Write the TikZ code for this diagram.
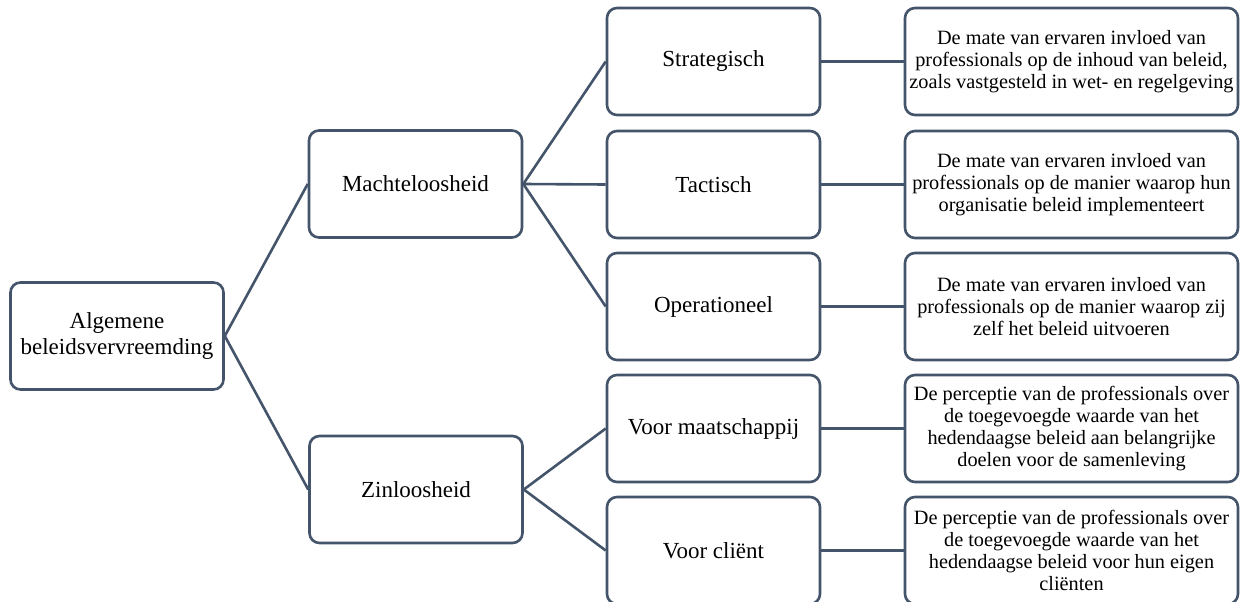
\documentclass[tikz,border=0pt]{standalone}
\usepackage{fontspec}
\setmainfont{Liberation Serif}
\definecolor{boxline}{RGB}{68,84,106}
\tikzset{
  box/.style={draw=boxline, line width=2.6pt, rounded corners=10pt, fill=white,
    align=center, inner sep=0pt, minimum width=213pt, minimum height=107pt,
    font=\fontsize{23}{25}\selectfont},
  desc/.style={box, minimum width=333pt,
    font=\fontsize{20.3}{22}\selectfont},
  link/.style={draw=boxline, line width=2.6pt}
}
\begin{document}
\begin{tikzpicture}[x=1pt,y=-1pt]
\useasboundingbox (0,0) rectangle (1245,602);
\node[box] (root) at (117,336) {Algemene\\beleidsvervreemding};
\node[box] (mach) at (415.5,184) {Machteloosheid};
\node[box] (zin) at (416,489.5) {Zinloosheid};
\node[box] (str) at (713.5,61.5) {Strategisch};
\node[box] (tac) at (713.5,184.5) {Tactisch};
\node[box] (ope) at (713.5,306.5) {Operationeel};
\node[box] (maa) at (713.5,428.5) {Voor maatschappij};
\node[box] (cli) at (713.5,550.5) {Voor cliënt};
\node[desc] (dstr) at (1071.5,61.5) {De mate van ervaren invloed van\\professionals op de inhoud van beleid,\\zoals vastgesteld in wet- en regelgeving};
\node[desc] (dtac) at (1071.5,184.5) {De mate van ervaren invloed van\\professionals op de manier waarop hun\\organisatie beleid implementeert};
\node[desc] (dope) at (1071.5,306.5) {De mate van ervaren invloed van\\professionals op de manier waarop zij\\zelf het beleid uitvoeren};
\node[desc] (dmaa) at (1071.5,428.5) {De perceptie van de professionals over\\de toegevoegde waarde van het\\hedendaagse beleid aan belangrijke\\doelen voor de samenleving};
\node[desc] (dcli) at (1071.5,550.5) {De perceptie van de professionals over\\de toegevoegde waarde van het\\hedendaagse beleid voor hun eigen\\cliënten};
\draw[link] (root.east) -- (mach.west);
\draw[link] (root.east) -- (zin.west);
\draw[link] (mach.east) -- (str.west);
\draw[link] (mach.east) -- (tac.west);
\draw[link] (mach.east) -- (ope.west);
\draw[link] (zin.east) -- (maa.west);
\draw[link] (zin.east) -- (cli.west);
\draw[link] (str.east) -- (dstr.west);
\draw[link] (tac.east) -- (dtac.west);
\draw[link] (ope.east) -- (dope.west);
\draw[link] (maa.east) -- (dmaa.west);
\draw[link] (cli.east) -- (dcli.west);
\end{tikzpicture}
\end{document}
